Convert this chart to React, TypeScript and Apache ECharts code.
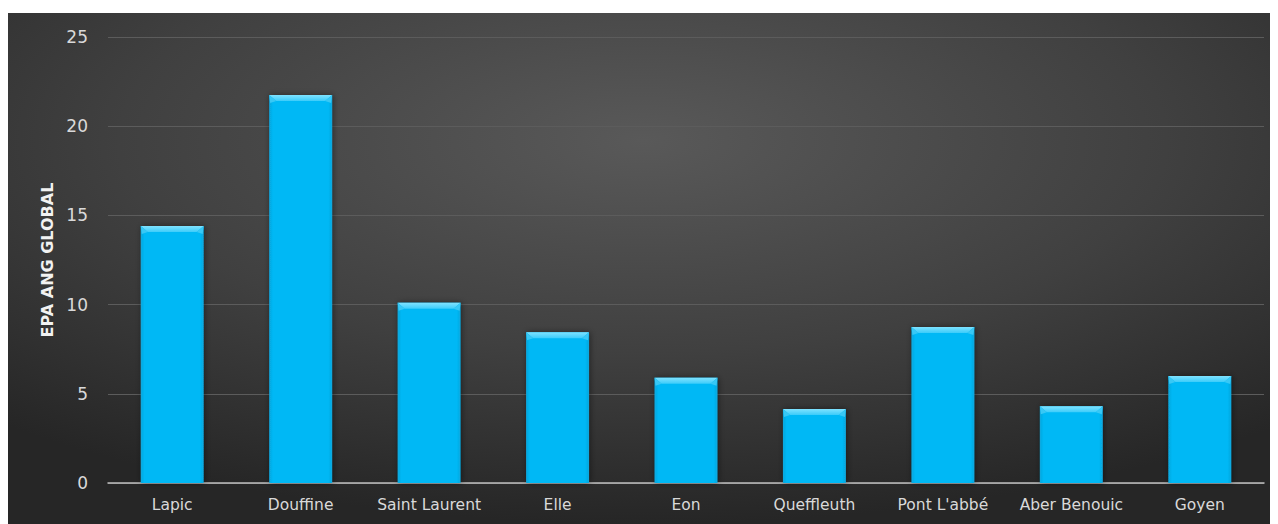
import React, { useEffect, useRef } from "react";
import * as echarts from "echarts";

const categories = ["Lapic", "Douffine", "Saint Laurent", "Elle", "Eon", "Queffleuth", "Pont L'abbé", "Aber Benouic", "Goyen"];
const values = [14.4, 21.75, 10.1, 8.45, 5.9, 4.15, 8.75, 4.3, 6.0];
const yMin = 0;
const yMax = 25;
const yInterval = 5;
const axisTitle = "EPA ANG GLOBAL";

export default function App() {
  const ref = useRef<HTMLDivElement>(null);
  useEffect(() => {
    const chart = echarts.init(ref.current!, null, { renderer: "svg" });
    const font = "'DejaVu Sans', 'Liberation Sans', sans-serif";
    chart.setOption({
      animation: false,
      backgroundColor: {
        type: "radial",
        x: 0.5,
        y: 0.25,
        r: 0.75,
        colorStops: [
          { offset: 0, color: "#595959" },
          { offset: 0.55, color: "#404040" },
          { offset: 1, color: "#262626" },
        ],
      },
      grid: { left: 100, right: 14, top: 24, bottom: 41 },
      xAxis: {
        type: "category",
        data: categories,
        axisLine: { lineStyle: { color: "#bfbfbf", width: 1.5 } },
        axisTick: { show: false },
        axisLabel: { color: "#d9d9d9", fontSize: 15.5, fontFamily: font, margin: 14, interval: 0, hideOverlap: false },
      },
      yAxis: {
        type: "value",
        min: yMin,
        max: yMax,
        interval: yInterval,
        name: axisTitle,
        nameLocation: "middle",
        nameGap: 52,
        nameTextStyle: { color: "#f2f2f2", fontSize: 16, fontWeight: "bold", fontFamily: font },
        axisLine: { show: false },
        axisTick: { show: false },
        axisLabel: { color: "#d9d9d9", fontSize: 17, fontFamily: font, margin: 20 },
        splitLine: { lineStyle: { color: "#5c5c5c", width: 1 } },
      },
      series: [
        {
          type: "bar",
          data: values,
          barWidth: "49%",
          itemStyle: {
            color: {
              type: "linear",
              x: 0, y: 0, x2: 1, y2: 0,
              colorStops: [
                { offset: 0, color: "#0aa6dc" },
                { offset: 0.06, color: "#00b8f5" },
                { offset: 0.94, color: "#00b8f5" },
                { offset: 1, color: "#0aa6dc" },
              ],
            },
            shadowColor: "rgba(0,0,0,0.45)",
            shadowBlur: 6,
            shadowOffsetX: 1,
            shadowOffsetY: 0,
          },
        },
        {
          type: "custom",
          data: values.map((v, i) => [i, v]),
          z: 3,
          silent: true,
          renderItem: (params: any, api: any) => {
            const top = api.coord([api.value(0), api.value(1)]);
            const band = api.size([1, 0])[0];
            const w = band * 0.49;
            const x0 = top[0] - w / 2;
            const x1 = top[0] + w / 2;
            const y0 = top[1];
            const h = 6;
            const inset = 7;
            return {
              type: "group",
              children: [
                {
                  type: "polygon",
                  shape: { points: [[x0, y0], [x1, y0], [x1 - inset, y0 + h], [x0 + inset, y0 + h]] },
                  style: {
                    fill: {
                      type: "linear", x: 0, y: 0, x2: 0, y2: 1,
                      colorStops: [
                        { offset: 0, color: "#7fe2ff" },
                        { offset: 1, color: "#3cccfa" },
                      ],
                    },
                  },
                },
                {
                  type: "polygon",
                  shape: { points: [[x0, y0], [x0 + inset, y0 + h], [x0 + 1, y0 + h + 2]] },
                  style: { fill: "#38c8f5" },
                },
                {
                  type: "polygon",
                  shape: { points: [[x1, y0], [x1 - inset, y0 + h], [x1 - 1, y0 + h + 2]] },
                  style: { fill: "#38c8f5" },
                },
              ],
            };
          },
        },
      ],
    });
    return () => chart.dispose();
  }, []);
  return <div ref={ref} style={{ width: 1270, height: 511, marginTop: 5 }} />;
}
